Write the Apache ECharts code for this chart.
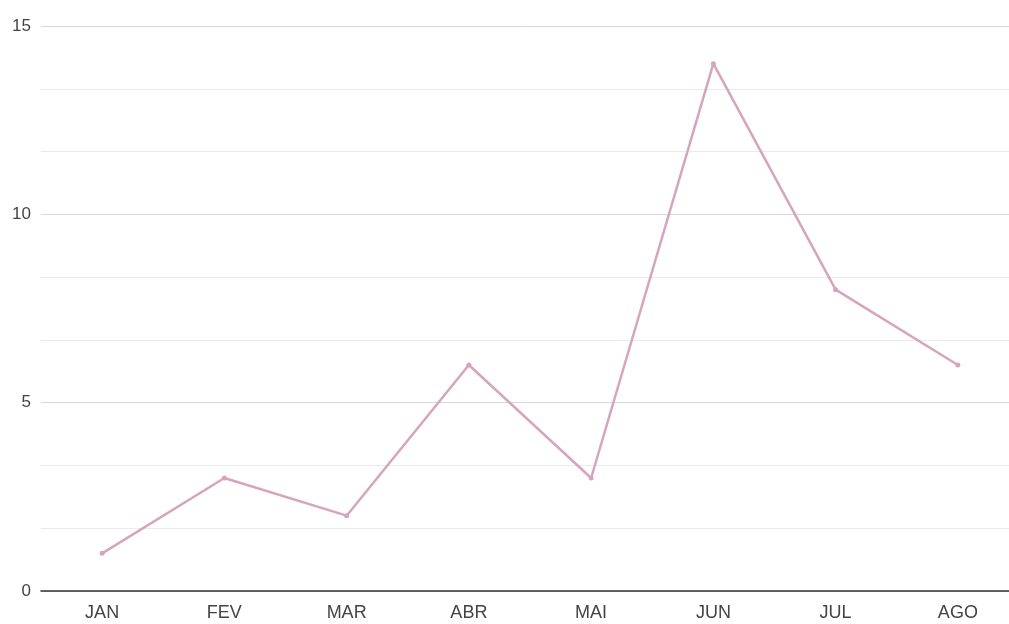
<!DOCTYPE html>
<html><head><meta charset="utf-8">
<script src="https://cdn.jsdelivr.net/npm/echarts@6/dist/echarts.min.js"></script>
<style>html,body{margin:0;padding:0;background:#fff}#c{width:1009px;height:624px}</style>
</head><body><div id="c"></div>
<script>
const categories = ['JAN','FEV','MAR','ABR','MAI','JUN','JUL','AGO'];
const values = [1,3,2,6,3,14,8,6];
const chart = echarts.init(document.getElementById('c'));
chart.setOption({
  animation:false,
  grid:{left:41, top:26, right:-10, bottom:33, containLabel:false, outerBoundsMode:'none'},
  xAxis:{type:'category', data:categories, boundaryGap:true,
    axisLine:{lineStyle:{color:'#333', width:1.5}},
    axisTick:{show:false},
    axisLabel:{color:'#444', fontSize:18, fontFamily:'Liberation Sans, Arial', margin:13}},
  yAxis:{type:'value', min:0, max:15, interval:5,
    axisLine:{show:false}, axisTick:{show:false},
    axisLabel:{color:'#444', fontSize:17, fontFamily:'Liberation Sans, Arial', margin:10},
    splitLine:{lineStyle:{color:'#d9d9d9'}},
    minorTick:{show:false, splitNumber:3},
    minorSplitLine:{show:true, lineStyle:{color:'#ebebeb'}}},
  series:[{type:'line', data:values, symbol:'circle', symbolSize:5,
    lineStyle:{color:'#d6a5bc', width:2.5}, itemStyle:{color:'#d6a5bc'}}]
});
</script></body></html>
